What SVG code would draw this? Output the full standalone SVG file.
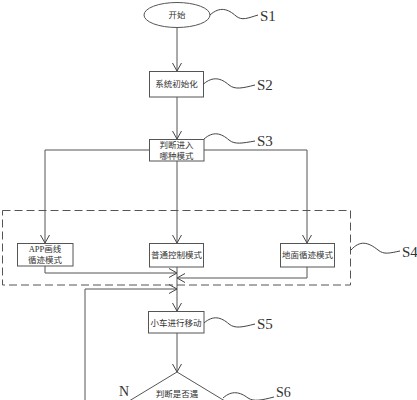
<svg xmlns="http://www.w3.org/2000/svg" width="417" height="400" viewBox="0 0 417 400">
<defs>
<marker id="arr" markerWidth="10" markerHeight="10" refX="8" refY="5" orient="auto" markerUnits="userSpaceOnUse">
<path d="M0,0.5 L8,5 L0,9.5" fill="none" stroke="#444" stroke-width="1"/>
</marker>
<style>
.n{fill:#fff;stroke:#555;stroke-width:1}
.t{font-family:"Liberation Serif","Noto Sans CJK SC",serif;font-size:8.5px;fill:#333;text-anchor:middle}
.c{fill:none;stroke:#555;stroke-width:1}
.s{fill:none;stroke:#444;stroke-width:1}
.l{font-family:"Liberation Serif",serif;font-size:15px;fill:#333}
</style>
</defs>
<rect width="417" height="400" fill="#fff"/>
<g id="connectors">
<line class="c" x1="177" y1="27.5" x2="177" y2="71" marker-end="url(#arr)"/>
<line class="c" x1="177" y1="97" x2="177" y2="139" marker-end="url(#arr)"/>
<polyline class="c" points="149,150 45,150 45,243" marker-end="url(#arr)"/>
<line class="c" x1="177" y1="161" x2="177" y2="243" marker-end="url(#arr)"/>
<polyline class="c" points="204,150 307,150 307,243" marker-end="url(#arr)"/>
<polyline class="c" points="45,266 45,273 177,273" marker-end="url(#arr)"/>
<polyline class="c" points="307,267 307,278 177,278" marker-end="url(#arr)"/>
<line class="c" x1="177" y1="267" x2="177" y2="311" marker-end="url(#arr)"/>
<polyline class="c" points="85,400 85,289 177,289" marker-end="url(#arr)"/>
<line class="c" x1="177" y1="333" x2="177" y2="372" marker-end="url(#arr)"/>
</g>
<g id="S4group">
<rect x="2.5" y="210.5" width="348" height="74.5" fill="none" stroke="#555" stroke-width="1" stroke-dasharray="8,4"/>
<path class="s" d="M351,250 C360,240 368,242 378,250 C384,255 390,253 400,251"/>
<text class="l" x="402" y="257">S4</text>
</g>
<g id="S1">
<ellipse class="n" cx="177" cy="15" rx="33" ry="12.5"/>
<text class="t" x="177" y="18">开始</text>
<path class="s" d="M210,15 C220,6 228,9 236,16 C242,21 248,18 258,15"/>
<text class="l" x="260" y="21">S1</text>
</g>
<g id="S2">
<rect class="n" x="149.5" y="71.5" width="54" height="25.5"/>
<text class="t" x="176.5" y="87">系统初始化</text>
<path class="s" d="M203.5,84 C213,76 221,78 229,85 C235,90 243,88 255,85"/>
<text class="l" x="257" y="90">S2</text>
</g>
<g id="S3">
<rect class="n" x="149.5" y="139.5" width="54.5" height="21.5"/>
<text class="t" x="176.5" y="148">判断进入</text>
<text class="t" x="176.5" y="159">哪种模式</text>
<path class="s" d="M204,139 C213,131 221,133 229,140 C235,145 243,143 255,141"/>
<text class="l" x="257" y="146">S3</text>
</g>
<g id="APP">
<rect class="n" x="17.5" y="243.5" width="55.5" height="22.5"/>
<text class="t" x="45" y="252">APP画线</text>
<text class="t" x="45" y="263">循迹模式</text>
</g>
<g id="Normal">
<rect class="n" x="149.5" y="243.5" width="54" height="23.5"/>
<text class="t" x="176.5" y="258">普通控制模式</text>
</g>
<g id="Ground">
<rect class="n" x="280.5" y="243.5" width="54" height="23.5"/>
<text class="t" x="307.5" y="258">地面循迹模式</text>
</g>
<g id="S5">
<rect class="n" x="148.5" y="311.5" width="55.5" height="21.5"/>
<text class="t" x="176" y="325.5">小车进行移动</text>
<path class="s" d="M204,323 C213,315 221,317 229,324 C235,329 243,327 255,324"/>
<text class="l" x="257" y="329">S5</text>
</g>
<g id="S6">
<polygon class="n" points="177,372 253,418 177,464 101,418"/>
<text class="t" x="177" y="397">判断是否遇</text>
<text class="l" x="119" y="396" style="font-size:14px">N</text>
<path class="s" d="M223,398 C232,390 240,392 248,398 C254,402 262,400 274,397"/>
<text class="l" x="276" y="397" style="font-size:14px">S6</text>
</g>
</svg>
